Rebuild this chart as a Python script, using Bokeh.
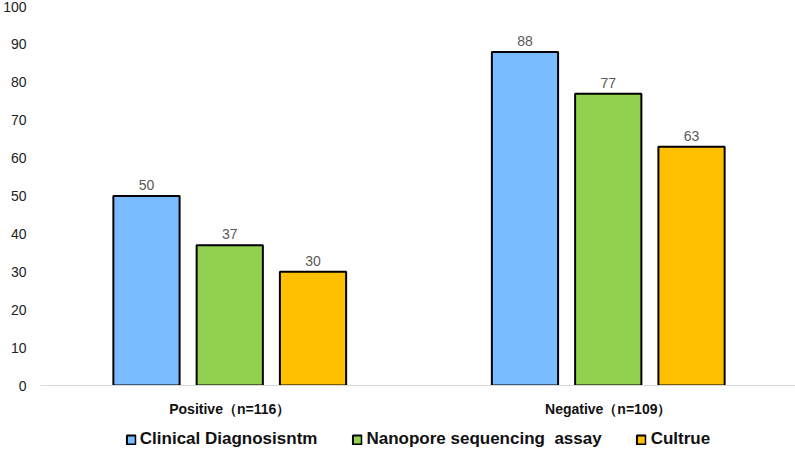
from bokeh.plotting import figure
from bokeh.models import ColumnDataSource, FixedTicker, Legend, LegendItem, Range1d, LabelSet
from bokeh.layouts import column
from bokeh.core.properties import value
from bokeh.transform import dodge
from bokeh.embed import file_html
from bokeh.resources import INLINE

categories = ["Positive（n=116）", "Negative（n=109）"]
series_names = ["Clinical Diagnosisntm", "Nanopore sequencing  assay", "Cultrue"]
clinical = [50, 88]
nanopore = [37, 77]
culture = [30, 63]
colors = ["#79BCFF", "#92D050", "#FFC000"]
y_ticks = list(range(0, 101, 10))

FONT = "Liberation Sans"

p = figure(width=795, frame_width=757, frame_height=379, x_range=categories, y_range=Range1d(0, 100),
           output_backend="svg", toolbar_location=None,
           min_border_left=38, min_border_right=0, min_border_top=6, min_border_bottom=0)
p.outline_line_color = None
p.xgrid.grid_line_color = None
p.ygrid.grid_line_color = None

p.yaxis.ticker = FixedTicker(ticks=y_ticks)
p.yaxis.axis_line_color = None
p.yaxis.major_tick_line_color = None
p.yaxis.minor_tick_line_color = None
p.yaxis.major_tick_out = 0
p.yaxis.major_tick_in = 0
p.yaxis.major_label_text_font = FONT
p.yaxis.major_label_text_font_size = "14px"
p.yaxis.major_label_text_color = "#222222"
p.yaxis.major_label_standoff = 14

p.xaxis.axis_line_color = "#D9D9D9"
p.xaxis.axis_line_width = 1
p.xaxis.major_tick_line_color = None
p.xaxis.minor_tick_line_color = None
p.xaxis.major_tick_out = 0
p.xaxis.major_tick_in = 0
p.xaxis.major_label_text_font = FONT
p.xaxis.major_label_text_font_size = "14px"
p.xaxis.major_label_text_font_style = "bold"
p.xaxis.major_label_text_color = "#111111"
p.xaxis.major_label_standoff = 15

src = ColumnDataSource(dict(cat=categories, clinical=clinical, nanopore=nanopore, culture=culture))
offsets = [-0.22, 0.0, 0.22]
fields = ["clinical", "nanopore", "culture"]
for off, fld, col in zip(offsets, fields, colors):
    p.vbar(x=dodge("cat", off, range=p.x_range), top=fld, width=0.175, bottom=0,
           source=src, fill_color=col, line_color="black", line_width=2)
    labels = LabelSet(x=dodge("cat", off, range=p.x_range), y=fld, text=fld, source=src,
                      text_align="center", text_baseline="bottom", y_offset=6,
                      text_font_size="14px", text_color="#595959", text_font=value(FONT))
    p.add_layout(labels)

# legend strip below the chart (its bars lie outside its visible range; only the legend shows)
leg = figure(width=795, height=40, x_range=categories, y_range=Range1d(1000, 1001),
             output_backend="svg", toolbar_location=None, min_border=0)
leg.outline_line_color = None
leg.axis.visible = False
leg.grid.visible = False
proxies = []
for off, fld, col in zip(offsets, fields, colors):
    proxies.append(leg.vbar(x=dodge("cat", off, range=leg.x_range), top=fld, width=0.175, bottom=0,
                            source=src, fill_color=col, line_color="black", line_width=2))
legend = Legend(items=[LegendItem(label=n, renderers=[r]) for n, r in zip(series_names, proxies)],
                orientation="horizontal", location="center",
                label_text_font=FONT, label_text_font_size="17px", label_text_font_style="bold",
                label_text_color="#111111", glyph_width=11, glyph_height=11,
                spacing=34, label_standoff=4, border_line_color=None,
                background_fill_alpha=0, margin=0, padding=2, label_height=16)
leg.add_layout(legend, "center")

layout = column(p, leg, spacing=0)
open("out.html", "w").write(file_html(layout, INLINE))
